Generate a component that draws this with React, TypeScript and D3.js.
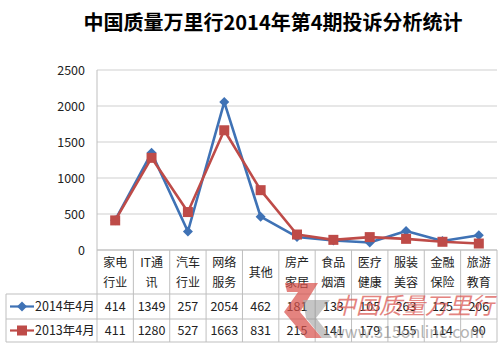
import React from 'react';
import * as d3 from 'd3';

const title = '中国质量万里行2014年第4期投诉分析统计';
const categories = [
  ['家电', '行业'], ['IT通', '讯'], ['汽车', '行业'], ['网络', '服务'], ['其他'],
  ['房产', '家居'], ['食品', '烟酒'], ['医疗', '健康'], ['服装', '美容'], ['金融', '保险'], ['旅游', '教育'],
];
const series2014 = [414, 1349, 257, 2054, 462, 181, 133, 105, 263, 125, 206];
const series2013 = [411, 1280, 527, 1663, 831, 215, 141, 179, 155, 114, 90];
const yTicks = [0, 500, 1000, 1500, 2000, 2500];

const seriesList = [
  { name: '2014年4月', values: series2014, color: '#3F72B5', marker: 'diamond' },
  { name: '2013年4月', values: series2013, color: '#BE4B48', marker: 'square' },
];

const font = '"Noto Sans CJK SC", "Noto Sans", sans-serif';

export default function App() {
  const width = 500;
  const height = 351;
  const left = 97;
  const right = 497;
  const top = 70;
  const bottom = 250;
  const tableLeft = 6;
  const rowLines = [294, 319, 342];

  const keys = categories.map((c, i) => String(i));
  const x = d3.scaleBand().domain(keys).range([left, right]).padding(0);
  const y = d3.scaleLinear().domain([0, 2500]).range([bottom, top]);
  const cx = (i: number) => (x(String(i)) as number) + x.bandwidth() / 2;

  const line = d3.line<number>().x((d, i) => cx(i)).y(d => y(d));

  const marker = (kind: string, px: number, py: number, color: string, key: string) => {
    if (kind === 'diamond') {
      const s = 5;
      return <path key={key} d={`M${px},${py - s}L${px + s},${py}L${px},${py + s}L${px - s},${py}Z`} fill={color} />;
    }
    const s = 5;
    return <rect key={key} x={px - s} y={py - s} width={s * 2} height={s * 2} fill={color} />;
  };

  return (
    <svg width={width} height={height} style={{ position: 'absolute', left: 0, top: 0, background: '#fff' }} fontFamily={font}>
      <text x={273} y={30} textAnchor="middle" fontSize={20} fontWeight="bold" fill="#000">{title}</text>

      {/* grid */}
      {yTicks.map(t => (
        <g key={t}>
          <line x1={left} x2={right} y1={y(t)} y2={y(t)} stroke={t === 0 ? '#a6a6a6' : '#cfcfcf'} strokeWidth={1.2} />
          <text x={85} y={y(t) + 4.5} textAnchor="end" fontSize={12.5} fill="#222">{t}</text>
        </g>
      ))}
      <line x1={left} x2={left} y1={top} y2={rowLines[2]} stroke="#bfbfbf" strokeWidth={1} />

      {/* table */}
      {categories.map((c, i) => (
        <line key={'v' + i} x1={(x(String(i)) as number) + x.bandwidth()} x2={(x(String(i)) as number) + x.bandwidth()}
          y1={bottom} y2={rowLines[2]} stroke="#bfbfbf" strokeWidth={1} />
      ))}
      {rowLines.map(ry => (
        <line key={'h' + ry} x1={tableLeft} x2={right} y1={ry} y2={ry} stroke="#bfbfbf" strokeWidth={1} />
      ))}
      <line x1={tableLeft} x2={tableLeft} y1={rowLines[0]} y2={rowLines[2]} stroke="#bfbfbf" strokeWidth={1} />

      {categories.map((c, i) => (
        <g key={'c' + i}>
          {c.length === 1 ? (
            <text x={cx(i)} y={277} textAnchor="middle" fontSize={12} fill="#222">{c[0]}</text>
          ) : (
            c.map((s, j) => (
              <text key={j} x={cx(i)} y={267 + j * 20} textAnchor="middle" fontSize={12} fill="#222">{s}</text>
            ))
          )}
        </g>
      ))}

      {seriesList.map((s, k) => (
        <g key={'row' + k}>
          <line x1={10} x2={34} y1={(rowLines[k] + rowLines[k + 1]) / 2} y2={(rowLines[k] + rowLines[k + 1]) / 2}
            stroke={s.color} strokeWidth={2.2} />
          {marker(s.marker, 22, (rowLines[k] + rowLines[k + 1]) / 2, s.color, 'lm' + k)}
          <text x={35} y={(rowLines[k] + rowLines[k + 1]) / 2 + 4.5} fontSize={12.5} fill="#222">{s.name}</text>
          {s.values.map((v, i) => (
            <text key={i} x={cx(i)} y={(rowLines[k] + rowLines[k + 1]) / 2 + 4.5} textAnchor="middle" fontSize={12.5} fill="#222">{v}</text>
          ))}
        </g>
      ))}

      {/* lines */}
      {seriesList.map((s, k) => (
        <g key={'s' + k}>
          <path d={line(s.values) as string} fill="none" stroke={s.color} strokeWidth={2.6} strokeLinejoin="round" />
          {s.values.map((v, i) => marker(s.marker, cx(i), y(v), s.color, 'm' + k + i))}
        </g>
      ))}

      {/* watermark */}
      <g opacity={0.7}>
        <path d="M285,283 L318,283 L300,312 L322,338 L306,338 L284,312 L298,292 L287,292 Z" fill="#d9504a" />
        <path d="M303,300 L330,300 L316,318 L332,338 L322,338 L306,318 Z" fill="#8a8a8a" opacity={0.7} />
        <text x={333} y={314} fontSize={23} fill="#d9504a" fontStyle="italic">中国质量万里行</text>
        <text x={332} y={338} fontSize={16} fill="#7a7a7a" opacity={0.8}>www.315online.com</text>
      </g>
    </svg>
  );
}
